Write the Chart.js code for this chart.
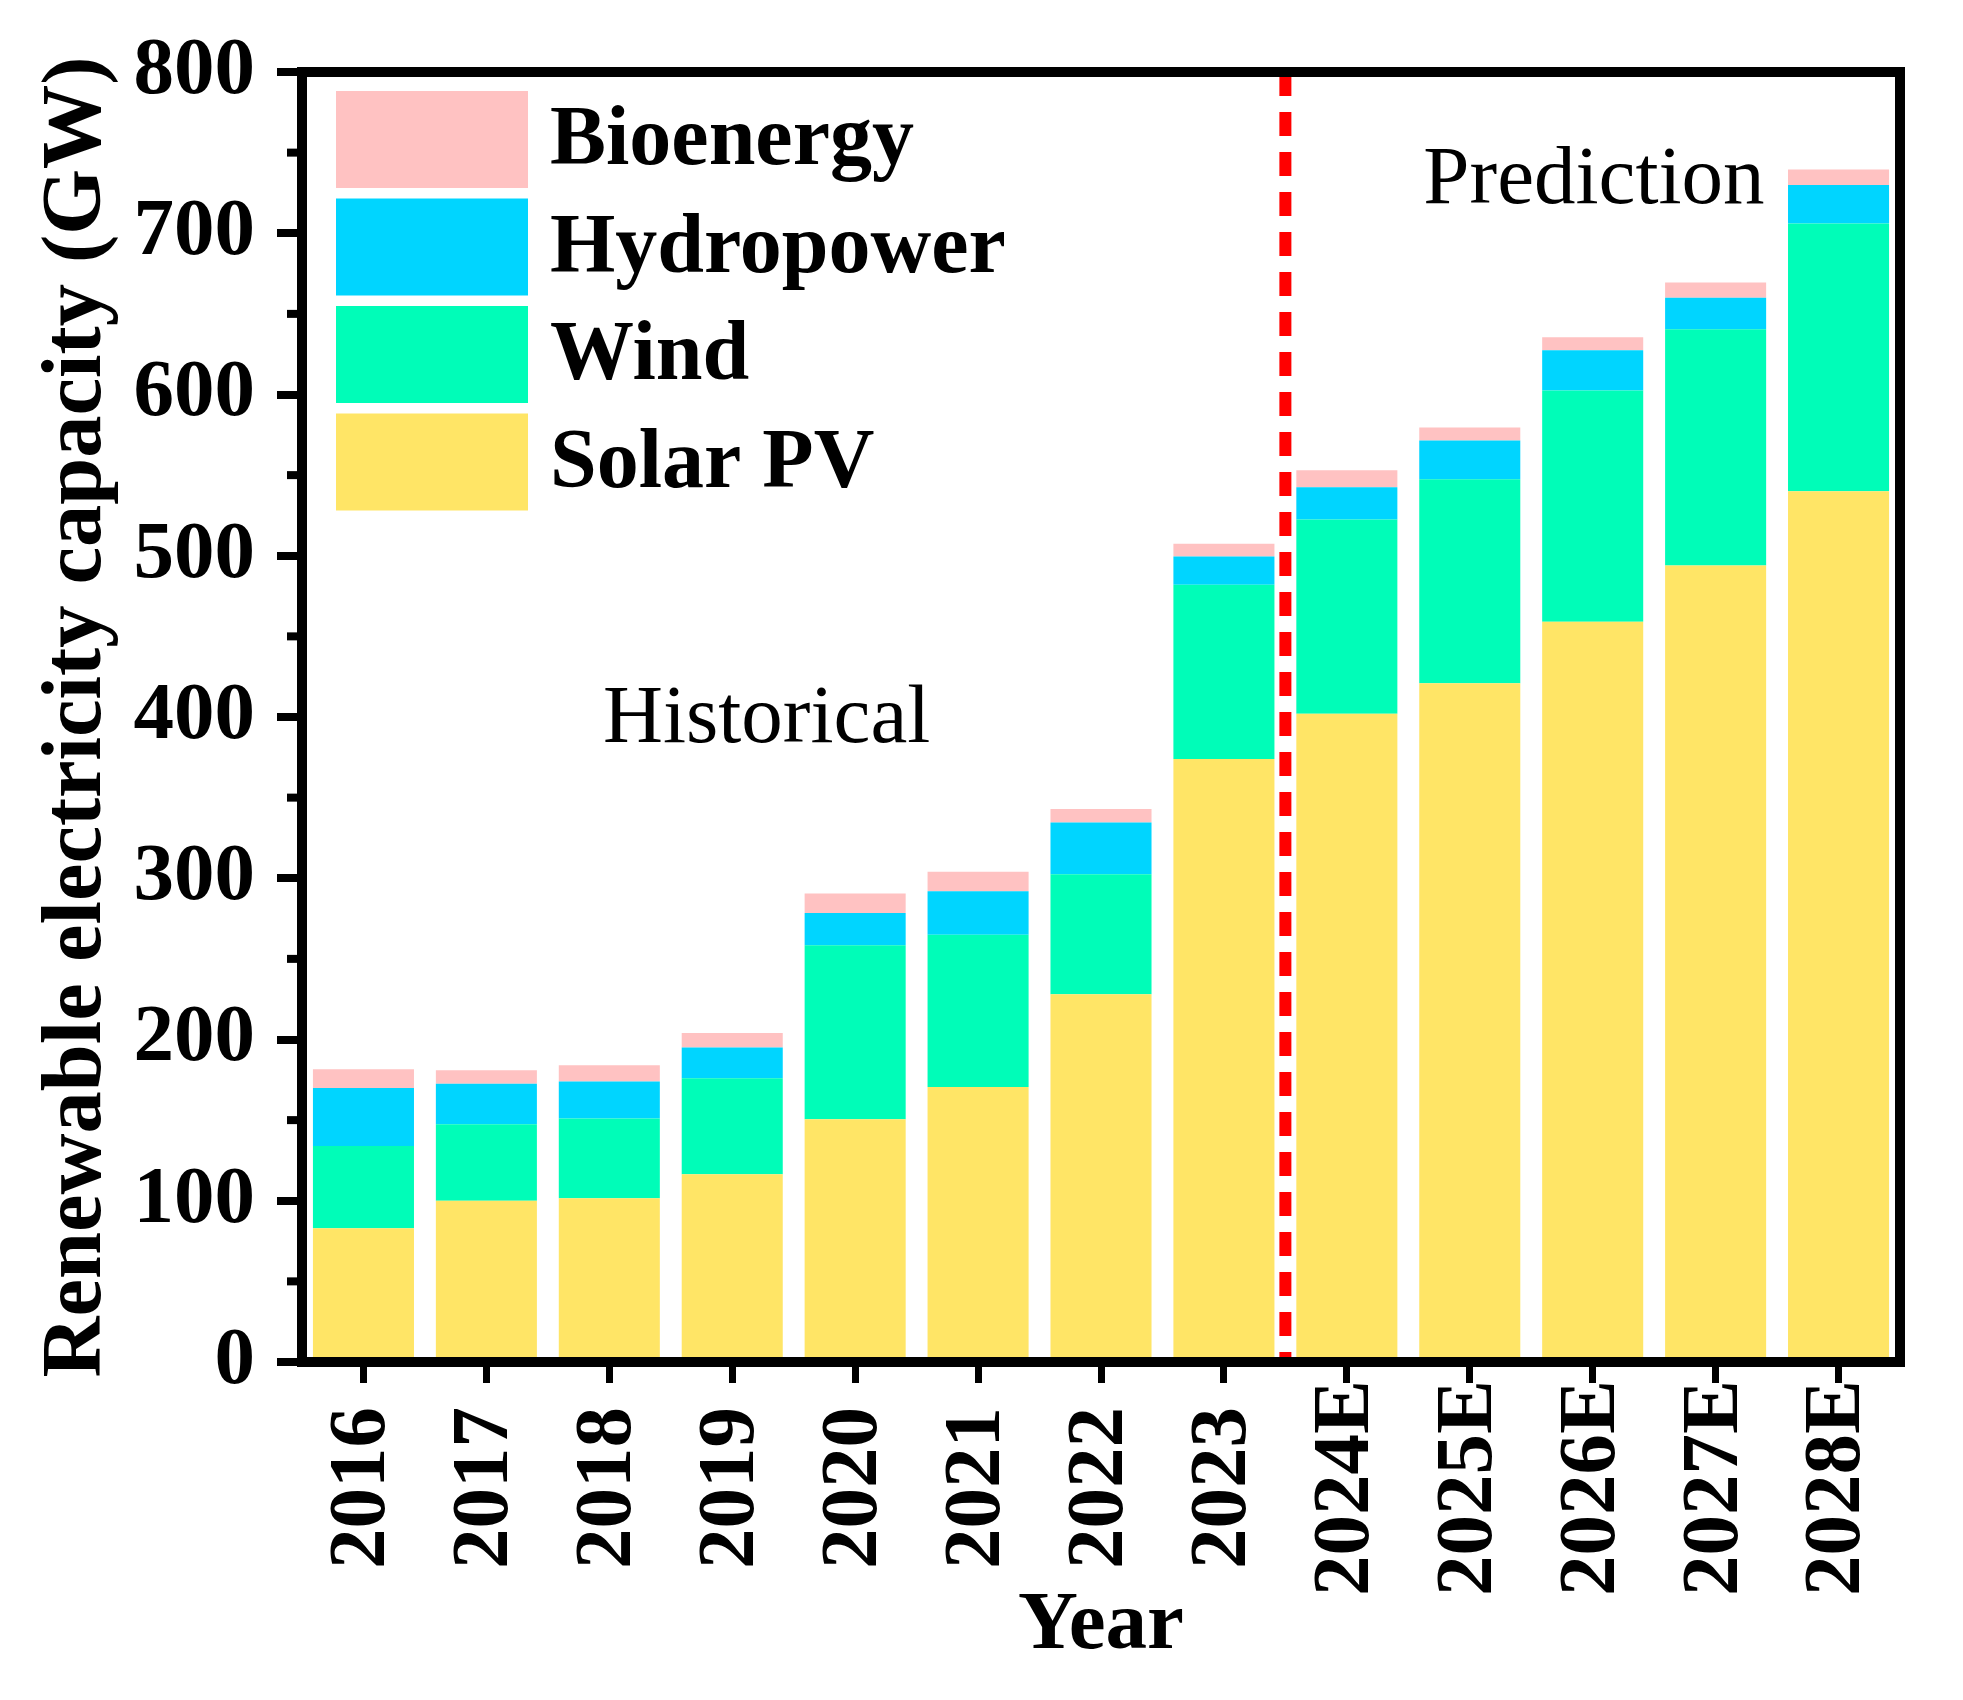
<!DOCTYPE html>
<html>
<head>
<meta charset="utf-8">
<script src="https://cdn.jsdelivr.net/npm/chart.js@4.4.1/dist/chart.umd.min.js"></script>
<style>
html,body{margin:0;padding:0;background:#ffffff;}
canvas{display:block;}
</style>
</head>
<body>
<canvas id="c" width="1963" height="1700" style="width:1963px;height:1700px"></canvas>
<script>
// ---- data ----
const years = ['2016','2017','2018','2019','2020','2021','2022','2023','2024E','2025E','2026E','2027E','2028E'];
const solarPV    = [83, 100, 101.5, 116.5, 150.5, 170.5, 228, 374, 402, 421, 459, 494, 540];
const wind       = [51, 47.5, 49.5, 59.5, 108, 94.5, 74.5, 108, 120.5, 126.5, 143.5, 146.5, 166];
const hydropower = [36, 25, 23, 19, 20, 27, 32, 17.5, 20, 24, 25, 19.5, 24];
const bioenergy  = [11.5, 8.5, 10, 9, 12, 12, 8.5, 8, 10.5, 8, 8, 9.5, 9.5];
const seriesNames = ['Solar PV','Wind','Hydropower','Bioenergy'];
const seriesColors = ['#FFE566','#00FDB8','#00D5FF','#FFC2C2'];
const yTitle = 'Renewable electricity capacity (GW)';
const xTitle = 'Year';
const dividerIndex = 7.5;            // between 2023 and 2024E
const annotations = [
  {text:'Historical', xIndex:3.28, yValue:384.5},
  {text:'Prediction', xIndex:10.01, yValue:718.8}
];

const SERIF = '"Liberation Serif", "Times New Roman", Times, serif';

const overlay = {
  id: 'overlay',
  afterDatasetsDraw(chart) {
    const {ctx, chartArea: a, scales: {x, y}} = chart;
    ctx.save();
    // dashed divider
    const xd = x.getPixelForValue(dividerIndex);
    ctx.strokeStyle = '#ff0000';
    ctx.lineWidth = 12;
    ctx.setLineDash([24, 16]);
    ctx.beginPath();
    ctx.moveTo(xd, a.top);
    ctx.lineTo(xd, a.bottom);
    ctx.stroke();
    ctx.setLineDash([]);
    // minor ticks on y
    ctx.fillStyle = '#000';
    for (let v = 50; v < 800; v += 100) {
      const py = y.getPixelForValue(v);
      ctx.fillRect(a.left - 15, py - 4, 15, 8);
    }
    // frame
    ctx.strokeStyle = '#000';
    ctx.lineWidth = 10;
    ctx.lineJoin = 'miter';
    ctx.strokeRect(a.left, a.top, a.right - a.left, a.bottom - a.top);
    ctx.restore();
  },
  afterDraw(chart) {
    const {ctx, chartArea: a, scales: {x, y}} = chart;
    ctx.save();
    ctx.fillStyle = '#000';
    // x tick labels (rotated, centered)
    ctx.font = 'bold 81px ' + SERIF;
    ctx.textAlign = 'center';
    ctx.textBaseline = 'middle';
    years.forEach((lab, i) => {
      const px = x.getPixelForTick(i);
      ctx.save();
      ctx.translate(px, a.bottom + 126);
      ctx.rotate(-Math.PI / 2);
      ctx.fillText(lab, 0, 0);
      ctx.restore();
    });
    // x title
    ctx.font = 'bold 83px ' + SERIF;
    ctx.textAlign = 'center';
    ctx.textBaseline = 'alphabetic';
    ctx.fillText(xTitle, (a.left + a.right) / 2, a.bottom + 286);
    // y title
    ctx.save();
    ctx.font = 'bold 84.5px ' + SERIF;
    ctx.translate(100, (a.top + a.bottom) / 2);
    ctx.rotate(-Math.PI / 2);
    ctx.textAlign = 'center';
    ctx.textBaseline = 'alphabetic';
    ctx.fillText(yTitle, 0, 0);
    ctx.restore();
    // annotations
    ctx.font = '83px ' + SERIF;
    ctx.textAlign = 'center';
    ctx.textBaseline = 'alphabetic';
    annotations.forEach(an => {
      ctx.fillText(an.text, x.getPixelForValue(an.xIndex), y.getPixelForValue(an.yValue));
    });
    // legend (reverse order, inside plot, top-left)
    const ds = chart.data.datasets.slice().reverse();
    const bx = a.left + 34, by = a.top + 19, bw = 192, bh = 97, pitch = 107.5;
    ctx.font = 'bold 84px ' + SERIF;
    ctx.textAlign = 'left';
    ctx.textBaseline = 'middle';
    ds.forEach((d, i) => {
      const top = by + i * pitch;
      ctx.fillStyle = d.backgroundColor;
      ctx.fillRect(bx, top, bw, bh);
      ctx.fillStyle = '#000';
      ctx.fillText(d.label, bx + bw + 22, top + bh / 2 + 3);
    });
    ctx.restore();
  }
};

const seriesValues = [solarPV, wind, hydropower, bioenergy];

new Chart(document.getElementById('c'), {
  type: 'bar',
  data: {
    labels: years,
    datasets: seriesValues.map((vals, i) => ({
      label: seriesNames[i],
      data: vals,
      backgroundColor: seriesColors[i],
      borderWidth: 0,
      barPercentage: 0.822,
      categoryPercentage: 1.0
    }))
  },
  options: {
    responsive: false,
    animation: false,
    devicePixelRatio: 1,
    layout: {padding: {left: 0, top: 72, right: 63, bottom: 0}},
    plugins: {legend: {display: false}, tooltip: {enabled: false}, title: {display: false}},
    scales: {
      x: {
        stacked: true,
        offset: true,
        border: {display: false},
        grid: {display: true, drawOnChartArea: false, drawTicks: true, offset: false,
               tickLength: 21, tickWidth: 7, tickColor: '#000', lineWidth: 7, color: '#000'},
        ticks: {display: false, autoSkip: false},
        afterFit: (s) => { s.height = 338; }
      },
      y: {
        stacked: true,
        min: 0, max: 800,
        border: {display: false},
        grid: {display: true, drawOnChartArea: false, drawTicks: true,
               tickLength: 25, tickWidth: 8, tickColor: '#000', lineWidth: 8, color: '#000'},
        ticks: {stepSize: 100, padding: 22, color: '#000',
                font: {family: SERIF, size: 81, weight: 'bold'}},
        afterFit: (s) => { s.width = 302; }
      }
    }
  },
  plugins: [overlay]
});
</script>
</body>
</html>
